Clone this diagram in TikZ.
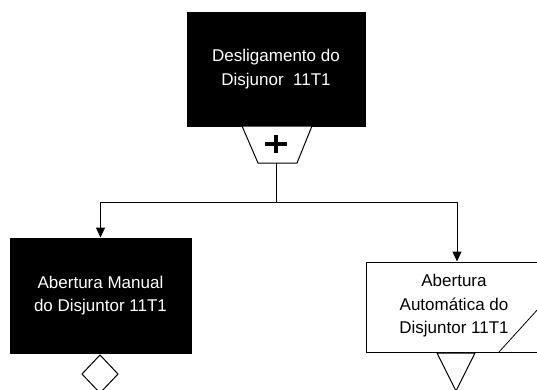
\documentclass[tikz,border=0pt]{standalone}
\usepackage{fontspec}
\setmainfont{Liberation Sans}
\usetikzlibrary{arrows.meta}
\tikzset{
  labelfont/.style={font=\fontsize{17}{23.5}\selectfont},
  funcbox/.style={draw=black, line width=1pt, minimum width=178pt, minimum height=114pt,
    inner sep=0pt, align=center, labelfont},
  darkbox/.style={funcbox, fill=black, text=white},
  lightbox/.style={funcbox, fill=white, text=black},
  link/.style={line width=1pt, -{Triangle[length=10pt,width=9pt]}},
  wire/.style={line width=1pt},
  gate/.style={line width=1pt, fill=white},
}
\begin{document}
\begin{tikzpicture}[x=1pt,y=-1pt]
\useasboundingbox (0,0) rectangle (537,389);
\clip (0,0) rectangle (537,389);
\fill[white] (0,0) rectangle (537,389);

% parent function with its AND connector below
\node[darkbox] (top) at (276,69) {Desligamento do\\Disjunor\ \ 11T1};
\draw[gate] (242,126) -- (312,126) -- (297,163) -- (258,163) -- cycle;
\draw[line width=4.5pt] (265,144) -- (287,144) (276,135) -- (276,153);
\coordinate (gateout) at (276,163);
\coordinate (split) at (276,202);

% child functions
\node[darkbox, minimum width=181pt, minimum height=115pt] (left) at (100.5,295.5)
  {Abertura Manual\\do Disjuntor 11T1};
\node[lightbox, minimum width=182pt, minimum height=90pt] (right) at (457,307) {};
\node[labelfont, align=center] (righttext) at (454,306)
  {Abertura\\Automática do\\Disjuntor 11T1};
\draw[line width=0.8pt] (499,352) -- (548,298);

% connectors
\draw[wire] (gateout) -- (split);
\draw[link] (split) -| (left.north);
\draw[link] (split) -| (right.north);

% event symbols below the children
\draw[wire, fill=white] (100,355) -- (118,374) -- (100,393) -- (82,374) -- cycle;
\draw[wire, fill=white] (437,353) -- (475,353) -- (456,391) -- cycle;
\end{tikzpicture}
\end{document}
